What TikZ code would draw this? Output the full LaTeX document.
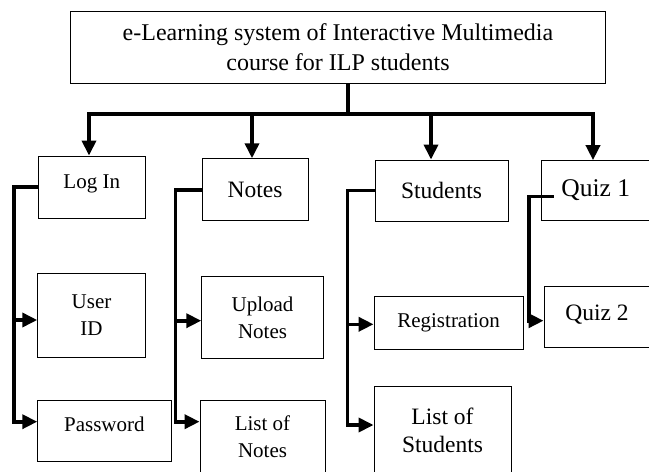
\documentclass[tikz,border=0pt]{standalone}
\usepackage{fontspec}
\setmainfont{Liberation Serif}
\usetikzlibrary{arrows.meta}
\tikzset{
  blk/.style={draw, line width=0.9pt, align=center, inner sep=0pt,
    font=\fontsize{21}{27}\selectfont},
  bigtxt/.style={font=\fontsize{23.5}{28}\selectfont},
  link/.style={line width=3.6pt},
  tri/.tip={Triangle[length=15pt,width=14pt]}
}
\begin{document}
\begin{tikzpicture}[x=1pt,y=-1pt]
     		\clip (0,0) rectangle (649,472);
     		% top box
     		\node[blk, minimum width=535, minimum height=72, font=\fontsize{24}{30}\selectfont] (top) at (338,47) {e-Learning system of Interactive Multimedia\\course for ILP students};
     		% first row
     		\node[blk, minimum width=106.5, minimum height=62, text depth=10pt] (login) at (91.75,187) {Log In};
     		\node[blk, bigtxt, minimum width=106, minimum height=62] (notes) at (255,189.7) {Notes};
     		\node[blk, bigtxt, minimum width=133, minimum height=61] (students) at (441.5,190.5) {Students};
     		\node[blk, minimum width=108.5, minimum height=60, font=\fontsize{25.5}{30}\selectfont] (quiza) at (595.75,190.6) {Quiz 1};
     		% second row
     		\node[blk, minimum width=107.6, minimum height=84.4] (userid) at (91.5,315.5) {User\\ID};
     		\node[blk, minimum width=133.3, minimum height=61, text depth=14pt] (password) at (104.35,431.2) {Password};
     		\node[blk, minimum width=121.6, minimum height=81.6] (upload) at (262.5,317.5) {Upload\\Notes};
     		\node[blk, minimum width=125, minimum height=72.3] (listnotes) at (262.5,436.85) {List of\\Notes};
     		\node[blk, minimum width=149.3, minimum height=53.3] (registration) at (448.65,322.65) {Registration};
     		\node[blk, bigtxt, minimum width=137, minimum height=87.3] (liststudents) at (442.5,430.35) {List of\\Students};
     		\node[blk, bigtxt, minimum width=106, minimum height=60.6, text depth=9pt] (quizb) at (597,317) {Quiz 2};
     		% main tree
     		\coordinate (jn) at (348,114);
     		\coordinate (d1) at (89,114);
     		\coordinate (d2) at (252,114);
     		\coordinate (d3) at (431,114);
     		\coordinate (d4) at (593,114);
     		\draw[link] (jn |- top.south) -- (jn);
     		\draw[link, tri-tri] (d1 |- login.north) |- (d4) -- (d4 |- quiza.north);
     		\draw[link, -tri] (d2) -- (d2 |- notes.north);
     		\draw[link, -tri] (d3) -- (d3 |- students.north);
     		% branches
     		\coordinate (la) at (14,320);
     		\coordinate (lb) at (14,421.7);
     		\draw[link, -tri] (login.west) -| (lb) -- (lb -| password.west);
     		\draw[link, -tri] (la) -- (la -| userid.west);
     		\coordinate (na) at (175.5,320.7);
     		\coordinate (nb) at (175.5,421.7);
     		\draw[link, -tri] (notes.west) -| (nb) -- (nb -| listnotes.west);
     		\draw[link, -tri] (na) -- (na -| upload.west);
     		\coordinate (sa) at (347.5,324.3);
     		\coordinate (sb) at (347.5,425);
     		\draw[link, -tri] (students.west) -| (sb) -- (sb -| liststudents.west);
     		\draw[link, -tri] (sa) -- (sa -| registration.west);
     		\coordinate (qa) at (529,320.7);
     		\draw[link, -tri] ([shift={(12.5,6)}]quiza.west) -| (qa) -- (qa -| quizb.west);
\end{tikzpicture}
\end{document}
